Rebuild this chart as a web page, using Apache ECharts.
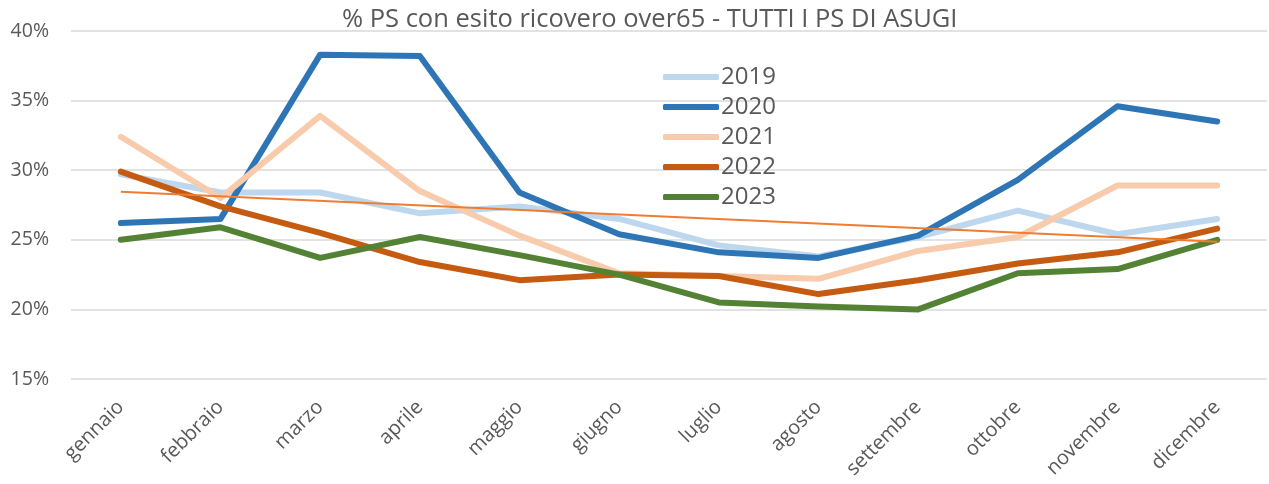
<!DOCTYPE html>
<html>
<head>
<meta charset="utf-8">
<script src="https://cdn.jsdelivr.net/npm/echarts@6/dist/echarts.min.js"></script>
<style>
html,body{margin:0;padding:0;background:#fff;}
#chart{width:1269px;height:484px;}
</style>
</head>
<body>
<div id="chart"></div>
<script>
var titleText = '% PS con esito ricovero over65 - TUTTI I PS DI ASUGI';
var months = ['gennaio','febbraio','marzo','aprile','maggio','giugno','luglio','agosto','settembre','ottobre','novembre','dicembre'];
var yTicks = [15, 20, 25, 30, 35, 40];
var years = ['2019','2020','2021','2022','2023'];
var v2019 = [29.7, 28.4, 28.4, 26.9, 27.4, 26.5, 24.6, 23.8, 25.2, 27.1, 25.4, 26.5];
var v2020 = [26.2, 26.5, 38.3, 38.2, 28.4, 25.4, 24.1, 23.7, 25.3, 29.3, 34.6, 33.5];
var v2021 = [32.4, 28.0, 33.9, 28.5, 25.3, 22.6, 22.4, 22.2, 24.2, 25.2, 28.9, 28.9];
var v2022 = [29.9, 27.4, 25.5, 23.4, 22.1, 22.5, 22.4, 21.1, 22.1, 23.3, 24.1, 25.8];
var v2023 = [25.0, 25.9, 23.7, 25.2, 23.9, 22.5, 20.5, 20.2, 20.0, 22.6, 22.9, 25.0];
var trendEnds = [28.45, null, null, null, null, null, null, null, null, null, null, 24.86];

var colors = ['#BDD7EE', '#2E75B6', '#F8CBAD', '#C55A11', '#548235'];
var trendColor = '#ED7D31';
var values = [v2019, v2020, v2021, v2022, v2023];
var font = '"Open Sans", "Noto Sans", sans-serif';

var series = years.map(function (y, i) {
  return {
    name: y, type: 'line', data: values[i], symbol: 'none', smooth: false,
    lineStyle: { color: colors[i], width: 6, cap: 'round', join: 'round' },
    itemStyle: { color: colors[i] },
    z: 2 + i
  };
});
series.push({
  name: 'trend', type: 'line', data: trendEnds, connectNulls: true, symbol: 'none',
  lineStyle: { color: trendColor, width: 2 }, itemStyle: { color: trendColor }, z: 10,
  silent: true
});

var chart = echarts.init(document.getElementById('chart'));
chart.setOption({
  animation: false,
  backgroundColor: '#ffffff',
  title: {
    text: titleText, left: 337, top: 2,
    textStyle: { fontFamily: font, fontSize: 25.5, fontWeight: 'normal', color: '#595959' }
  },
  legend: {
    data: years, orient: 'vertical', left: 658, top: 57,
    icon: 'roundRect', itemWidth: 56, itemHeight: 6, itemGap: 0,
    textStyle: { fontFamily: font, fontSize: 24, color: '#595959', lineHeight: 30, padding: [0,0,0,-3] }
  },
  grid: { left: 71, right: 2, top: 31, bottom: 105, containLabel: false },
  xAxis: {
    type: 'category', data: months, boundaryGap: true,
    axisLine: { show: false }, axisTick: { show: false },
    axisLabel: { rotate: 45, margin: 25, fontFamily: font, fontSize: 20, color: '#595959', interval: 0 }
  },
  yAxis: {
    type: 'value', min: yTicks[0], max: yTicks[yTicks.length - 1], interval: 5,
    axisLine: { show: false }, axisTick: { show: false },
    axisLabel: { formatter: '{value}%', margin: 22, fontFamily: font, fontSize: 19.5, color: '#595959' },
    splitLine: { lineStyle: { color: '#D9D9D9', width: 1.5 } }
  },
  series: series
});
</script>
</body>
</html>
